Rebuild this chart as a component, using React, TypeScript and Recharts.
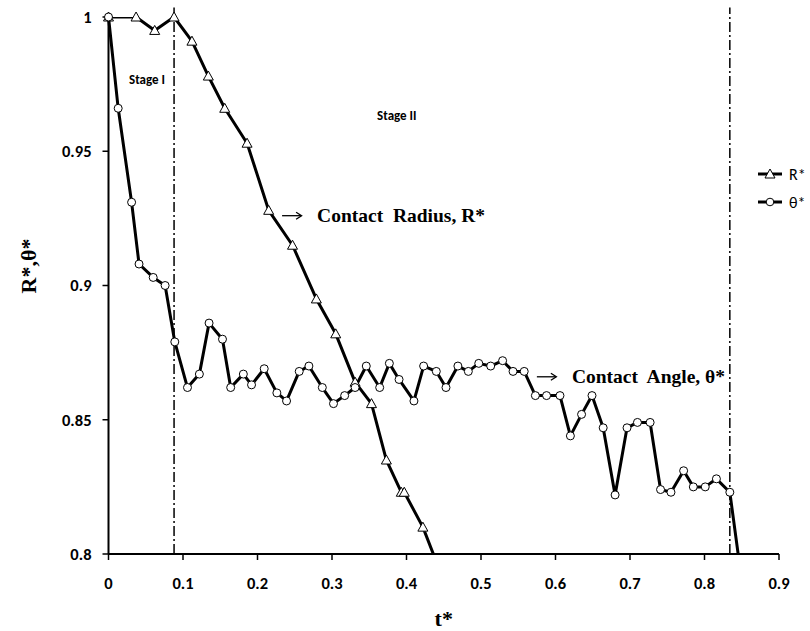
import React from 'react';
import { ComposedChart, Line, XAxis, YAxis, ReferenceLine, ReferenceDot } from 'recharts';

// contact radius R* (triangles)
const rTime = [0, 0.037, 0.062, 0.088, 0.112, 0.134, 0.156, 0.186, 0.215, 0.247, 0.279, 0.305, 0.331, 0.353, 0.373, 0.393, 0.397, 0.422, 0.45];
const rValue = [1.0, 1.0, 0.995, 1.0, 0.991, 0.978, 0.966, 0.953, 0.928, 0.915, 0.895, 0.882, 0.864, 0.856, 0.835, 0.823, 0.823, 0.81, 0.79];

// contact angle θ* (circles)
const thetaTime = [
  0, 0.013, 0.031, 0.041, 0.06, 0.076, 0.089, 0.106, 0.122, 0.135, 0.153, 0.164, 0.181, 0.192, 0.209, 0.226,
  0.239, 0.256, 0.269, 0.287, 0.302, 0.317, 0.331, 0.346, 0.364, 0.377, 0.39, 0.41, 0.423, 0.44, 0.453, 0.469,
  0.483, 0.497, 0.513, 0.529, 0.543, 0.558, 0.573, 0.588, 0.606, 0.62, 0.635, 0.649, 0.664, 0.68, 0.696, 0.71,
  0.727, 0.741, 0.755, 0.772, 0.785, 0.801, 0.816, 0.834, 0.85,
];
const thetaValue = [
  1.0, 0.966, 0.931, 0.908, 0.903, 0.9, 0.879, 0.862, 0.867, 0.886, 0.88, 0.862, 0.867, 0.863, 0.869, 0.86,
  0.857, 0.868, 0.87, 0.862, 0.856, 0.859, 0.862, 0.87, 0.862, 0.871, 0.865, 0.857, 0.87, 0.868, 0.862, 0.87,
  0.868, 0.871, 0.87, 0.872, 0.868, 0.868, 0.859, 0.859, 0.859, 0.844, 0.852, 0.859, 0.847, 0.822, 0.847, 0.849,
  0.849, 0.824, 0.823, 0.831, 0.825, 0.825, 0.828, 0.823, 0.79,
];

const xTicks = [0, 0.1, 0.2, 0.3, 0.4, 0.5, 0.6, 0.7, 0.8, 0.9];
const yTicks = [0.8, 0.85, 0.9, 0.95, 1];
const stageLines = [0.088, 0.834];

const rData = rTime.map((t, i) => ({ t, v: rValue[i] }));
const thetaData = thetaTime.map((t, i) => ({ t, v: thetaValue[i] }));
// markers only where they fall inside the plotted range
const rMarks = rData.filter(d => d.v >= 0.8);
const thetaMarks = thetaData.filter(d => d.v >= 0.8);

const SANS = 'Carlito, Calibri, "Open Sans", sans-serif';
const SERIF = '"Liberation Serif", "Times New Roman", serif';

const Triangle = (props: any) => {
  const { cx, cy, index } = props;
  if (cx == null || cy == null) return null;
  return (
    <polygon
      key={`tri-${index}`}
      points={`${cx},${cy - 5} ${cx + 5},${cy + 4} ${cx - 5},${cy + 4}`}
      fill="#fff"
      stroke="#000"
      strokeWidth={1}
    />
  );
};

const Ring = (props: any) => {
  const { cx, cy, index } = props;
  if (cx == null || cy == null) return null;
  return <circle key={`ring-${index}`} cx={cx} cy={cy} r={4} fill="#fff" stroke="#000" strokeWidth={1} />;
};

const Note = (props: any) => {
  const { viewBox, text, size = 12, family = SANS } = props;
  const x = viewBox.x + viewBox.width / 2;
  const y = viewBox.y + viewBox.height / 2;
  return (
    <text x={x} y={y} dy="0.35em" textAnchor="middle" fontSize={size} fontFamily={family} fontWeight={700} fill="#000">
      {text}
    </text>
  );
};

const ArrowNote = (props: any) => {
  const { viewBox, text } = props;
  const x = viewBox.x + viewBox.width / 2;
  const y = viewBox.y + viewBox.height / 2;
  return (
    <g>
      <line x1={x} y1={y} x2={x + 19} y2={y} stroke="#000" strokeWidth={1.3} />
      <polyline points={`${x + 14},${y - 3.5} ${x + 19.5},${y} ${x + 14},${y + 3.5}`} fill="none" stroke="#000" strokeWidth={1.3} />
      <text x={x + 35} y={y} dy="0.33em" fontSize={19.5} fontFamily={SERIF} fontWeight={700} fill="#000" style={{ whiteSpace: 'pre' }}>
        {text}
      </text>
    </g>
  );
};

const YTitle = (props: any) => {
  const { viewBox } = props;
  const x = viewBox.x + 28;
  const y = 266;
  return (
    <text x={x} y={y} transform={`rotate(-90 ${x} ${y})`} textAnchor="middle" dy="0.35em" fontSize={22} fontFamily={SERIF} fontWeight={700} fill="#000">
      R*,θ*
    </text>
  );
};

const tickStyle = { fill: '#000', fontSize: 16.5, fontWeight: 700, fontFamily: SANS };

const LegendRow = ({ label, marker }: { label: string; marker: 'tri' | 'ring' }) => (
  <div style={{ display: 'flex', alignItems: 'center', height: 28 }}>
    <svg width={26} height={14}>
      <line x1={0} y1={7} x2={24} y2={7} stroke="#000" strokeWidth={3} />
      {marker === 'tri' ? (
        <polygon points="12,2 17,11 7,11" fill="#fff" stroke="#000" strokeWidth={1} />
      ) : (
        <circle cx={12} cy={7} r={3.8} fill="#fff" stroke="#000" strokeWidth={1} />
      )}
    </svg>
    <span style={{ marginLeft: 5, fontFamily: SANS, fontSize: 16, color: '#000' }}>{label}</span>
  </div>
);

export default function App() {
  return (
    <div style={{ position: 'absolute', left: 0, top: 0, width: 810, height: 631, background: '#fff' }}>
      <ComposedChart width={810} height={631} margin={{ top: 17, right: 31, bottom: 0, left: 0 }}>
        <XAxis
          type="number"
          dataKey="t"
          domain={[0, 0.9]}
          ticks={xTicks}
          tickFormatter={(v: number) => String(Number(v.toFixed(1)))}
          height={77}
          tickSize={6}
          tickMargin={17}
          tick={tickStyle}
          axisLine={{ stroke: '#000', strokeWidth: 2 }}
          tickLine={{ stroke: '#000', strokeWidth: 1.5 }}
          label={{ value: 't*', position: 'insideBottom', offset: 5, style: { fontSize: 22, fontFamily: SERIF, fontWeight: 700, fill: '#000' } }}
        />
        <YAxis
          yAxisId="main"
          type="number"
          domain={[0.8, 1]}
          ticks={yTicks}
          allowDataOverflow
          tickFormatter={(v: number) => String(Number(v.toFixed(2)))}
          width={108.5}
          tickSize={6}
          tickMargin={11}
          tick={tickStyle}
          axisLine={{ stroke: '#000', strokeWidth: 2 }}
          tickLine={{ stroke: '#000', strokeWidth: 1.5 }}
          label={<YTitle />}
        />
        <YAxis yAxisId="mk" type="number" domain={[0.8, 1]} hide />

        {stageLines.map(s => (
          <ReferenceLine
            key={s}
            yAxisId="main"
            segment={[{ x: s, y: 0.8 }, { x: s, y: 1.0035 }]}
            ifOverflow="visible"
            stroke="#000"
            strokeWidth={1.5}
            strokeDasharray="10 3 2 3"
          />
        ))}

        <Line yAxisId="main" data={rData} dataKey="v" type="linear" stroke="#000" strokeWidth={3} strokeLinejoin="round" dot={false} isAnimationActive={false} />
        <Line yAxisId="main" data={thetaData} dataKey="v" type="linear" stroke="#000" strokeWidth={3} strokeLinejoin="round" dot={false} isAnimationActive={false} />
        <Line yAxisId="mk" data={rMarks} dataKey="v" type="linear" stroke="none" dot={Triangle} activeDot={false} isAnimationActive={false} />
        <Line yAxisId="mk" data={thetaMarks} dataKey="v" type="linear" stroke="none" dot={Ring} activeDot={false} isAnimationActive={false} />

        <ReferenceDot yAxisId="main" x={0.0517} y={0.9767} r={0} fill="none" stroke="none" label={<Note text="Stage I" size={13} />} />
        <ReferenceDot yAxisId="main" x={0.387} y={0.9633} r={0} fill="none" stroke="none" label={<Note text="Stage II" size={13} />} />
        <ReferenceDot yAxisId="main" x={0.233} y={0.926} r={0} fill="none" stroke="none" label={<ArrowNote text="Contact  Radius, R*" />} />
        <ReferenceDot yAxisId="main" x={0.575} y={0.866} r={0} fill="none" stroke="none" label={<ArrowNote text="Contact  Angle, θ*" />} />
      </ComposedChart>

      <div style={{ position: 'absolute', left: 758, top: 160 }}>
        <LegendRow label="R*" marker="tri" />
        <LegendRow label="θ*" marker="ring" />
      </div>
    </div>
  );
}
